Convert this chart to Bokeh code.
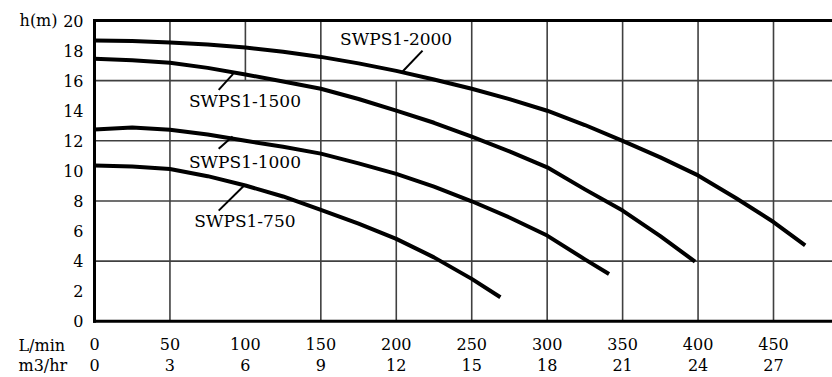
from bokeh.plotting import figure
from bokeh.models import Range1d, LinearAxis, FixedTicker
from bokeh.core.properties import value
from bokeh.embed import file_html
from bokeh.resources import INLINE

# ---- data ----
flow_ticks = [0, 50, 100, 150, 200, 250, 300, 350, 400, 450]
m3hr_labels = ["0", "3", "6", "9", "12", "15", "18", "21", "24", "27"]
head_ticks = [0, 2, 4, 6, 8, 10, 12, 14, 16, 18, 20]

q_2000 = [0, 25, 50, 75, 100, 125, 150, 175, 200, 225, 250, 275, 300, 325, 350, 375, 400, 425, 450, 471]
h_2000 = [18.67, 18.63, 18.54, 18.4, 18.2, 17.92, 17.58, 17.15, 16.65, 16.08, 15.46, 14.77, 14.0, 13.05, 12.0, 10.9, 9.7, 8.2, 6.6, 5.05]

q_1500 = [0, 25, 50, 75, 100, 125, 150, 175, 200, 225, 250, 275, 300, 325, 350, 375, 398]
h_1500 = [17.45, 17.35, 17.19, 16.85, 16.41, 15.95, 15.46, 14.78, 14.01, 13.2, 12.28, 11.3, 10.24, 8.77, 7.36, 5.66, 3.97]

q_1000 = [0, 25, 50, 75, 100, 125, 150, 175, 200, 225, 250, 275, 300, 325, 341]
h_1000 = [12.75, 12.88, 12.73, 12.42, 12.0, 11.6, 11.15, 10.5, 9.8, 8.95, 7.98, 6.9, 5.7, 4.12, 3.15]

q_750 = [0, 25, 50, 75, 100, 125, 150, 175, 200, 225, 250, 269]
h_750 = [10.36, 10.3, 10.13, 9.65, 9.03, 8.3, 7.41, 6.5, 5.48, 4.25, 2.82, 1.6]

series_names = ["SWPS1-2000", "SWPS1-1500", "SWPS1-1000", "SWPS1-750"]

FONT = "DejaVu Serif"
X_MIN, X_MAX = -62.3, 489.1
Y_MIN, Y_MAX = -3.737, 21.33
H_TOP = 20

p = figure(width=832, height=377,
           x_range=Range1d(X_MIN, X_MAX), y_range=Range1d(Y_MIN, Y_MAX),
           output_backend="svg", toolbar_location=None,
           x_axis_location=None, y_axis_location=None,
           min_border=0)
p.xgrid.visible = False
p.ygrid.visible = False
p.outline_line_color = None
p.background_fill_color = "white"
p.border_fill_color = "white"

def style_axis(ax, standoff):
    ax.axis_line_color = None
    ax.major_tick_line_color = None
    ax.minor_tick_line_color = None
    ax.major_tick_in = 0
    ax.major_tick_out = 0
    ax.minor_tick_in = 0
    ax.minor_tick_out = 0
    ax.major_label_standoff = standoff
    ax.major_label_text_font = FONT
    ax.major_label_text_font_size = "16px"
    ax.major_label_text_color = "black"

yax = LinearAxis(ticker=FixedTicker(ticks=head_ticks), fixed_location=0)
style_axis(yax, 11)
p.add_layout(yax, "left")

xax1 = LinearAxis(ticker=FixedTicker(ticks=flow_ticks), fixed_location=0)
style_axis(xax1, 17)
p.add_layout(xax1, "below")

xax2 = LinearAxis(ticker=FixedTicker(ticks=flow_ticks), fixed_location=0,
                  major_label_overrides={q: lab for q, lab in zip(flow_ticks, m3hr_labels)})
style_axis(xax2, 38)
p.add_layout(xax2, "below")

# ---- grid (irregular, as in the reference) ----
GRID = "#404040"
full_v = [50, 150, 250, 300, 350, 400, 450]
p.segment(x0=full_v, y0=[0] * len(full_v), x1=full_v, y1=[H_TOP] * len(full_v),
          line_color=GRID, line_width=1.6)
p.segment(x0=[100, 200], y0=[16, 0], x1=[100, 200], y1=[H_TOP, 16],
          line_color=GRID, line_width=1.6)
hl = [4, 8, 12, 16]
p.segment(x0=[0] * len(hl), y0=hl, x1=[X_MAX] * len(hl), y1=hl,
          line_color=GRID, line_width=1.6)

# ---- frame (left, top, bottom) ----
p.segment(x0=[0, 0, 0], y0=[0, H_TOP, 0], x1=[0, X_MAX, X_MAX], y1=[H_TOP, H_TOP, 0],
          line_color="black", line_width=3, line_cap="square")

# ---- curves ----
for qs, hs in [(q_2000, h_2000), (q_1500, h_1500), (q_1000, h_1000), (q_750, h_750)]:
    p.line(qs, hs, line_color="black", line_width=4, line_join="round")

# ---- curve labels with leader lines ----
lab_x = [199.9, 99.7, 99.7, 99.7]
lab_y = [18.74, 14.68, 10.62, 6.70]
p.text(x=lab_x, y=lab_y, text=series_names, text_font=value(FONT),
       text_font_size="17px", text_align="center", text_baseline="middle",
       text_color="black")
lead_x0 = [217.4, 91.9, 91.5, 99.2]
lead_y0 = [18.0, 16.45, 12.28, 9.03]
lead_x1 = [204.2, 82.3, 82.3, 82.3]
lead_y1 = [16.61, 15.39, 11.47, 7.36]
p.segment(x0=lead_x0, y0=lead_y0, x1=lead_x1, y1=lead_y1,
          line_color="black", line_width=2)

# ---- axis captions ----
p.text(x=[-24.5], y=[H_TOP], text=["h(m)"], text_font=value(FONT),
       text_font_size="16px", text_align="right", text_baseline="middle",
       text_color="black")
p.text(x=[-50.4, -50.4], y=[-1.61, -2.95], text=["L/min", "m3/hr"],
       text_font=value(FONT), text_font_size="16px", text_align="left",
       text_baseline="middle", text_color="black")

open("out.html", "w").write(file_html(p, INLINE))
